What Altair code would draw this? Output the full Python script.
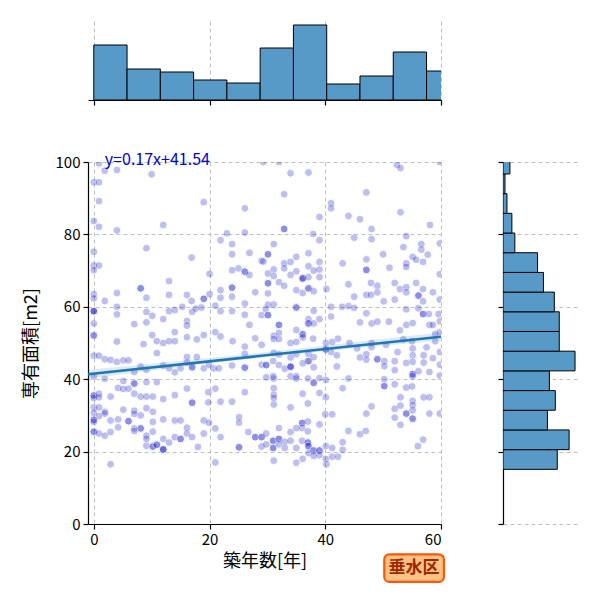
import pandas as pd
import altair as alt

FONT = "Noto Sans CJK JP"

# scatter points (築年数, 専有面積), grouped by region
pts_upper = [
    (0.9, 99.6), (1.9, 97.6), (4.0, 97.8), (10.0, 96.6), (0.0, 94.4), (0.9, 94.4), (0.9, 89.2),
    (19.0, 88.9), (26.1, 87.2), (0.0, 83.7), (0.9, 82.1), (4.0, 81.1), (12.0, 82.6), (26.1, 80.5),
    (23.0, 80.3), (21.9, 78.4), (23.9, 77.3), (9.1, 76.2), (0.0, 75.2), (29.3, 100.0), (32.0, 100.0),
    (59.8, 100.0), (34.0, 96.9), (37.1, 97.1), (52.4, 99.2), (53.0, 98.3), (32.9, 91.1), (47.1, 91.6),
    (41.0, 88.6), (41.0, 87.2), (39.0, 84.8), (44.0, 85.1), (46.0, 84.2), (53.0, 86.1), (58.1, 82.6),
    (32.9, 81.5), (32.9, 81.5), (48.0, 81.5), (37.9, 80.1), (39.0, 78.4), (45.0, 79.1), (48.0, 78.7),
    (54.0, 79.5), (31.1, 77.3), (53.5, 76.5), (56.6, 77.3), (59.8, 77.5),
]
pts_upper_mid = [
    (26.9, 74.9), (23.9, 74.5), (16.9, 73.6), (29.0, 72.7), (0.0, 71.4), (0.9, 71.4), (0.0, 70.1),
    (25.0, 70.6), (26.1, 69.7), (26.1, 69.7), (23.9, 70.1), (26.9, 68.8), (20.0, 69.1), (13.0, 67.1),
    (8.1, 65.1), (8.1, 65.1), (4.0, 63.8), (9.1, 62.5), (13.0, 63.3), (16.1, 63.3), (16.9, 61.6),
    (19.0, 62.2), (19.0, 62.2), (20.0, 63.5), (21.9, 64.6), (21.9, 62.5), (23.9, 65.3), (23.9, 65.3),
    (23.9, 62.8), (27.9, 64.0), (0.0, 63.5), (0.0, 62.3), (1.9, 61.6), (30.1, 74.5), (30.1, 74.5),
    (35.0, 73.8), (37.1, 74.8), (50.0, 74.5), (55.1, 73.8), (56.6, 75.8), (57.7, 74.4), (29.3, 72.5),
    (32.9, 72.0), (32.9, 70.6), (31.1, 70.3), (34.0, 72.4), (39.0, 72.4), (39.0, 70.3), (37.1, 71.2),
    (43.0, 72.0), (47.1, 73.1), (47.1, 70.2), (47.1, 70.2), (51.1, 70.8), (54.0, 72.0), (54.0, 71.0),
    (55.7, 73.0), (56.9, 72.4), (30.1, 69.2), (30.1, 66.5), (30.1, 66.5), (31.1, 68.5), (32.0, 66.8),
    (32.9, 65.8), (36.1, 67.7), (36.1, 67.9), (36.1, 67.9), (35.0, 69.8), (34.0, 68.8), (37.1, 68.2),
    (38.0, 70.0), (39.0, 68.2), (37.1, 65.1), (37.1, 65.1), (40.2, 64.9), (35.0, 64.6), (36.1, 63.8),
    (38.0, 64.3), (44.0, 66.2), (47.9, 66.6), (49.0, 65.8), (52.0, 66.6), (52.9, 64.9), (54.0, 65.4),
    (54.0, 64.0), (55.7, 66.6), (56.9, 64.9), (56.1, 63.1), (56.1, 63.1), (56.9, 61.5), (58.6, 64.0),
    (30.1, 63.7), (45.0, 62.8), (47.1, 63.3), (47.9, 63.3), (49.0, 64.0), (50.1, 61.5), (52.0, 62.0),
    (59.8, 69.0), (59.8, 62.0),
]
pts_mid = [
    (0.0, 58.8), (0.0, 58.8), (0.0, 58.8), (0.0, 55.4), (0.0, 52.2), (4.0, 60.0), (4.0, 57.9),
    (9.1, 58.6), (9.1, 55.7), (7.0, 55.2), (10.1, 57.5), (13.0, 58.8), (12.0, 56.6), (14.0, 59.1),
    (15.3, 60.0), (16.1, 56.1), (16.1, 54.8), (17.0, 58.6), (17.6, 59.5), (18.6, 59.8), (21.0, 60.3),
    (21.9, 58.8), (23.9, 58.8), (26.1, 60.9), (26.1, 57.8), (26.9, 55.0), (29.0, 57.7), (29.7, 59.4),
    (10.1, 52.2), (14.0, 53.0), (19.0, 52.2), (21.0, 53.0), (30.1, 60.6), (31.1, 60.6), (35.0, 59.8),
    (35.0, 59.8), (38.0, 58.9), (39.0, 56.6), (41.0, 60.0), (42.9, 60.0), (44.0, 60.2), (45.0, 59.7),
    (47.1, 58.2), (54.0, 59.3), (56.1, 59.6), (56.9, 58.0), (56.9, 58.0), (57.9, 58.0), (59.6, 58.0),
    (30.1, 57.7), (30.1, 57.7), (32.0, 55.0), (32.0, 55.0), (37.1, 56.6), (37.1, 55.4), (37.1, 55.4),
    (38.0, 55.4), (36.1, 52.4), (36.1, 52.4), (35.0, 53.6), (41.0, 57.3), (46.0, 55.7), (48.0, 55.4),
    (49.0, 55.9), (51.0, 55.9), (52.9, 53.5), (54.0, 55.0), (55.1, 55.5), (58.0, 55.0), (58.6, 55.0),
    (31.1, 52.0), (32.0, 52.8), (59.8, 56.0), (59.8, 53.0), (59.0, 52.5),
]
pts_lower_mid = [
    (0.0, 52.0), (4.0, 50.4), (0.0, 46.5), (0.9, 46.5), (1.9, 45.5), (2.9, 45.3), (4.0, 44.8),
    (5.1, 45.2), (6.0, 45.2), (10.9, 47.2), (10.9, 50.5), (12.0, 50.0), (13.0, 50.5), (14.0, 50.5),
    (16.1, 51.6), (16.1, 46.1), (17.8, 46.1), (17.8, 51.0), (19.0, 43.0), (16.1, 44.6), (17.0, 43.3),
    (17.0, 43.3), (26.1, 43.2), (26.1, 43.2), (29.0, 44.0), (26.1, 47.0), (26.1, 49.0), (27.9, 51.3),
    (29.0, 49.5), (20.7, 43.0), (21.6, 43.0), (0.0, 40.8), (1.9, 40.1), (7.0, 42.0), (8.1, 43.5),
    (9.1, 42.6), (12.0, 43.8), (13.0, 43.0), (14.0, 41.9), (15.0, 43.0), (19.9, 44.0), (23.9, 43.8),
    (8.6, 49.7), (24.0, 50.5), (21.9, 51.8), (31.1, 51.1), (32.0, 51.1), (34.0, 50.0), (35.0, 50.3),
    (36.1, 51.5), (37.9, 51.2), (40.1, 50.0), (41.2, 50.3), (42.2, 51.2), (31.1, 47.3), (32.0, 46.8),
    (34.0, 46.0), (35.0, 46.9), (37.1, 47.0), (37.1, 45.0), (37.1, 45.0), (38.0, 43.3), (38.0, 46.1),
    (36.1, 44.4), (34.0, 43.6), (41.0, 47.5), (42.0, 46.6), (42.0, 43.5), (40.1, 48.2), (40.1, 48.2),
    (46.0, 46.0), (47.1, 46.9), (47.1, 45.4), (48.0, 50.0), (48.0, 48.8), (49.0, 45.5), (49.0, 45.5),
    (50.2, 45.0), (50.2, 43.6), (52.0, 45.0), (52.0, 42.5), (54.0, 44.5), (55.1, 48.5), (55.1, 46.6),
    (55.1, 44.8), (55.1, 41.4), (55.1, 41.4), (55.1, 40.8), (56.1, 42.2), (57.0, 46.6), (57.0, 44.6),
    (58.0, 42.0), (58.6, 45.8), (59.8, 44.0), (59.8, 41.0), (29.8, 43.9), (29.8, 43.9), (31.0, 45.0),
    (32.0, 43.9), (33.0, 42.9), (34.0, 43.4), (34.0, 43.4), (44.2, 50.0), (45.5, 48.5), (50.5, 49.5),
    (52.5, 47.5), (53.5, 51.0), (55.0, 50.5), (57.5, 48.8), (59.8, 47.5), (59.0, 50.5),
]
pts_lower_left = [
    (5.1, 39.5), (7.0, 38.8), (7.0, 38.8), (9.1, 39.2), (10.9, 39.2), (4.2, 37.6), (5.1, 37.3),
    (6.0, 37.4), (0.0, 35.5), (0.0, 35.5), (0.0, 34.8), (0.9, 36.0), (0.9, 35.0), (2.9, 35.2),
    (7.0, 36.0), (8.1, 35.2), (9.1, 35.2), (10.2, 35.2), (12.0, 34.5), (14.0, 35.6), (16.1, 37.4),
    (17.0, 33.5), (17.0, 33.5), (19.8, 36.4), (19.8, 33.6), (21.0, 37.4), (21.9, 33.8), (23.9, 33.8),
    (26.1, 36.4), (0.0, 32.2), (0.9, 32.2), (1.9, 31.0), (0.0, 30.7), (1.9, 30.5), (0.9, 29.8),
    (0.0, 28.8), (0.0, 28.8), (0.0, 28.2), (2.9, 28.6), (4.2, 28.9), (5.1, 31.6), (7.0, 31.3),
    (7.0, 30.4), (8.1, 30.0), (10.2, 31.0), (9.1, 32.0), (10.2, 28.2), (8.1, 26.4), (8.1, 26.4),
    (7.0, 26.4), (6.0, 28.4), (6.0, 28.4), (12.0, 28.9), (14.0, 28.6), (15.0, 28.6), (16.1, 26.6),
    (19.0, 28.6), (19.9, 28.0), (21.0, 26.4), (25.1, 29.5), (25.1, 28.0), (0.0, 25.5), (0.0, 25.5),
    (0.9, 25.0), (1.9, 24.4), (2.9, 25.4), (4.2, 26.7), (7.0, 25.7), (9.1, 24.4), (9.1, 23.5),
    (10.2, 25.5), (12.0, 23.5), (13.0, 22.5), (14.0, 24.0), (15.0, 23.5), (15.0, 23.5), (16.1, 25.0),
    (17.0, 24.0), (19.0, 25.0), (21.9, 24.0), (26.7, 25.4), (27.9, 24.0), (27.9, 24.0), (29.0, 24.0),
    (29.0, 24.0), (9.1, 21.6), (10.2, 21.4), (10.2, 21.4), (10.9, 21.9), (10.9, 21.9), (12.0, 20.6),
    (12.0, 20.6), (12.0, 20.6), (18.0, 21.3), (25.1, 21.2), (25.1, 21.2), (29.0, 21.4), (2.9, 16.5),
    (21.0, 17.0),
]
pts_lower_right = [
    (31.1, 40.2), (31.1, 37.5), (31.1, 35.7), (31.1, 34.8), (31.1, 33.0), (29.8, 40.5), (31.0, 40.8),
    (34.0, 40.8), (35.0, 40.8), (35.0, 40.2), (37.0, 40.2), (38.0, 39.0), (38.0, 39.0), (39.0, 40.3),
    (40.1, 39.8), (44.0, 40.2), (36.1, 36.0), (39.0, 36.2), (43.0, 37.5), (40.1, 35.0), (34.0, 32.2),
    (37.0, 33.3), (50.2, 38.1), (50.2, 38.1), (50.2, 40.0), (52.0, 38.6), (54.0, 37.7), (55.0, 38.0),
    (53.0, 35.0), (57.0, 35.0), (58.0, 35.0), (48.0, 32.5), (47.1, 30.5), (52.0, 31.8), (53.0, 32.7),
    (54.0, 30.5), (54.0, 30.5), (55.1, 34.0), (55.1, 32.8), (55.1, 31.4), (55.1, 29.1), (55.1, 29.1),
    (52.0, 29.4), (53.0, 27.4), (58.0, 30.5), (59.8, 30.5), (40.0, 30.3), (41.2, 30.3), (36.0, 27.9),
    (36.0, 27.9), (36.0, 26.5), (37.0, 28.3), (37.0, 25.6), (39.0, 27.5), (44.0, 25.7), (46.0, 24.8),
    (47.0, 25.7), (29.8, 25.0), (31.0, 23.0), (31.0, 23.0), (32.0, 26.5), (32.0, 23.5), (32.0, 23.5),
    (33.0, 22.7), (34.0, 25.4), (35.0, 26.5), (29.8, 22.0), (31.0, 21.0), (31.0, 21.0), (32.0, 22.0),
    (33.0, 21.0), (34.0, 23.0), (35.0, 21.0), (36.0, 23.0), (37.0, 22.5), (37.0, 22.5), (37.1, 21.5),
    (37.1, 21.5), (38.0, 20.3), (38.0, 20.3), (39.0, 20.3), (39.0, 20.3), (39.0, 19.0), (37.1, 19.6),
    (38.0, 18.8), (40.1, 21.5), (41.2, 21.0), (43.0, 20.5), (43.0, 22.6), (40.1, 18.0), (41.2, 18.6),
    (42.2, 18.6), (31.1, 17.5), (35.0, 16.9), (36.1, 18.0), (40.2, 16.5), (56.9, 23.3), (56.0, 21.5),
]

# marginal histograms
age_bin_start = [0.0, 5.75, 11.5, 17.25, 23.0, 28.75, 34.5, 40.25, 46.0, 51.75, 57.5]
age_bin_end = [5.75, 11.5, 17.25, 23.0, 28.75, 34.5, 40.25, 46.0, 51.75, 57.5, 63.25]
age_counts = [55, 31, 28, 20, 17, 52, 75, 16, 24, 48, 29]

area_bin_start = [15.1, 20.54, 25.98, 31.42, 36.86, 42.3, 47.74, 53.18, 58.62, 64.06, 69.5,
                  74.94, 80.38, 85.82, 91.26, 96.7]
area_bin_end = [20.54, 25.98, 31.42, 36.86, 42.3, 47.74, 53.18, 58.62, 64.06, 69.5, 74.94,
                80.38, 85.82, 91.26, 96.7, 102.14]
area_counts = [55, 67, 45, 53, 47, 73, 57, 57, 52, 41, 35, 12, 9, 4, 2, 7]

# regression line y=0.17x+41.54 and its confidence band
reg_x = [-1, 60]
reg_y = [41.37, 51.74]
band_x = [-1, 10, 20, 30, 40, 50, 60]
band_lo = [40.1, 42.4, 44.4, 46.1, 47.7, 49.3, 50.6]
band_hi = [42.6, 44.3, 45.9, 47.5, 49.3, 51.2, 52.9]

eq_label = ["y=0.17x+41.54"]
ward = ["垂水区"]

all_pts = pts_upper + pts_upper_mid + pts_mid + pts_lower_mid + pts_lower_left + pts_lower_right
pts = pd.DataFrame(all_pts, columns=["age", "area"])
age_hist = pd.DataFrame({"start": age_bin_start, "end": age_bin_end, "count": age_counts})
area_hist = pd.DataFrame({"start": area_bin_start, "end": area_bin_end, "count": area_counts})
reg = pd.DataFrame({"x": reg_x, "y": reg_y})
band = pd.DataFrame({"x": band_x, "lo": band_lo, "hi": band_hi})

x_scale = alt.Scale(domain=[-1, 60], nice=False, zero=False)
y_scale = alt.Scale(domain=[0, 100], nice=False, zero=False)
W, H, M = 353, 362, 75
BAR = "#5799c7"

grid = dict(gridDash=[4, 3], gridColor="#b0b0b0", gridWidth=0.8, tickSize=5)

dots = alt.Chart(pts).mark_circle(size=62, color="#0000c0", opacity=0.25, stroke="white",
                                  strokeWidth=1, clip=True).encode(
    x=alt.X("age:Q", scale=x_scale, title="築年数[年]",
            axis=alt.Axis(values=[0, 20, 40, 60], titlePadding=5, labelPadding=3, **grid)),
    y=alt.Y("area:Q", scale=y_scale, title="専有面積[m2]",
            axis=alt.Axis(values=[0, 20, 40, 60, 80, 100], titlePadding=15, labelPadding=3, **grid)),
)
ci = alt.Chart(band).mark_area(color="#1f77b4", opacity=0.15).encode(
    x=alt.X("x:Q", scale=x_scale), y=alt.Y("lo:Q", scale=y_scale), y2="hi:Q")
line = alt.Chart(reg).mark_line(color="#1f77b4", strokeWidth=2.5).encode(
    x=alt.X("x:Q", scale=x_scale), y=alt.Y("y:Q", scale=y_scale))
eq = alt.Chart(pd.DataFrame({"t": eq_label, "x": [1.9], "y": [100.6]})).mark_text(
    align="left", baseline="middle", fontSize=16, color="#0000cd", font=FONT).encode(
    x=alt.X("x:Q", scale=x_scale), y=alt.Y("y:Q", scale=y_scale), text="t:N")
badge_df = pd.DataFrame({"t": ward, "x0": [50.2], "x1": [60.5], "y0": [-8.4], "y1": [-16.0],
                         "xm": [55.35], "ym": [-12.2]})
badge_box = alt.Chart(badge_df).mark_rect(fill="#ffc285", stroke="#ff560a", strokeWidth=2.2,
                                          cornerRadius=5).encode(
    x=alt.X("x0:Q", scale=x_scale), x2="x1:Q", y=alt.Y("y0:Q", scale=y_scale), y2="y1:Q")
badge_txt = alt.Chart(badge_df).mark_text(fontSize=17, fontWeight="bold", color="#a02800",
                                          font=FONT).encode(
    x=alt.X("xm:Q", scale=x_scale), y=alt.Y("ym:Q", scale=y_scale), text="t:N")

main = alt.layer(dots, ci, line, eq, badge_box, badge_txt).properties(width=W, height=H)

top = alt.Chart(age_hist).mark_bar(fill=BAR, stroke="black", strokeWidth=1, clip=True).encode(
    x=alt.X("start:Q", scale=x_scale,
            axis=alt.Axis(values=[0, 20, 40, 60], labels=False, title=None, **grid)),
    x2="end:Q",
    y=alt.Y("count:Q", scale=alt.Scale(domain=[0, 79], nice=False), axis=None),
    y2=alt.datum(0),
).properties(width=W, height=79)

right = alt.Chart(area_hist).mark_bar(fill=BAR, stroke="black", strokeWidth=1, clip=True).encode(
    y=alt.Y("start:Q", scale=y_scale,
            axis=alt.Axis(values=[0, 20, 40, 60, 80, 100], labels=False, title=None, **grid)),
    y2="end:Q",
    x=alt.X("count:Q", scale=alt.Scale(domain=[0, 76], nice=False), axis=None),
    x2=alt.datum(0),
).properties(width=M, height=H)

blank = alt.Chart(pd.DataFrame({"v": [0]})).mark_point(opacity=0).encode(
    x=alt.X("v:Q", axis=None), y=alt.Y("v:Q", axis=None)).properties(width=M, height=79)

chart = alt.concat(top, blank, main, right, columns=2, spacing=62, bounds="flush", align="each").properties(
    padding={"left": 14, "top": 13, "right": 5, "bottom": 5}
).configure(font=FONT).configure_view(stroke=None).configure_axis(
    labelFont=FONT, titleFont=FONT, labelFontSize=15, titleFontSize=18, labelColor="black",
    titleColor="black", titleFontWeight="normal", domainColor="black", tickColor="black",
    domainWidth=1.2, tickWidth=1.2,
)

chart.save("out.html", embed_options={"renderer": "svg", "actions": False})
